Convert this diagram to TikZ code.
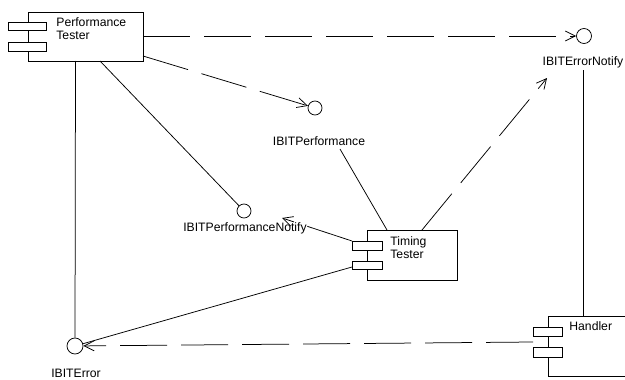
\documentclass[tikz,border=0pt]{standalone}
\usepackage{fontspec}
\setmainfont{Liberation Sans}
\usetikzlibrary{arrows.meta}
\begin{document}
\begin{tikzpicture}[x=1pt,y=-1pt,
  line width=0.75pt,
  comp/.style={draw, fill=white, inner sep=0pt, anchor=north west},
  port/.style={draw, fill=white, inner sep=0pt, anchor=north west},
  iface/.style={draw, fill=white, circle, inner sep=0pt, minimum size=15pt},
  lbl/.style={inner sep=0pt, font=\fontsize{12.2}{13}\selectfont},
  boxtext/.style={inner sep=0pt, anchor=base west, font=\fontsize{12.2}{13}\selectfont},
  dep/.style={dash pattern=on 47pt off 14pt, -{Straight Barb[length=10pt,width=10pt]}}
]
\useasboundingbox (0,0) rectangle (625,380);
% Performance Tester
\node[comp, minimum width=115pt, minimum height=49pt] (pt) at (28,12) {};
\node[port, minimum width=38pt, minimum height=8pt] (ptp1) at (8,22) {};
\node[port, minimum width=38pt, minimum height=9pt] (ptp2) at (8,42) {};
\node[boxtext] (ptt1) at (56,26.5) {Performance};
\node[boxtext] (ptt2) at (56,39.5) {Tester};
% Timing Tester
\node[comp, minimum width=90pt, minimum height=50pt] (tt) at (367,230) {};
\node[port, minimum width=30pt, minimum height=9pt] (ttp1) at (352,241) {};
\node[port, minimum width=30pt, minimum height=8pt] (ttp2) at (352,261) {};
\node[boxtext] (ttt1) at (390,245) {Timing};
\node[boxtext] (ttt2) at (390,258) {Tester};
% Handler
\node[comp, minimum width=82pt, minimum height=60pt] (h) at (548,316) {};
\node[port, minimum width=29pt, minimum height=9pt] (hp1) at (533,327) {};
\node[port, minimum width=29pt, minimum height=10pt] (hp2) at (533,347) {};
\node[boxtext] (ht) at (569,330) {Handler};
% Interfaces
\node[iface] (ien) at (584,36) {};
\node[lbl] (ienl) at (583,62) {IBITErrorNotify};
\node[iface, minimum size=14pt] (ip) at (315,108) {};
\node[lbl] (ipl) at (319,141) {IBITPerformance};
\node[iface, minimum size=14pt] (ipn) at (244,211) {};
\node[lbl] (ipnl) at (245,228) {IBITPerformanceNotify};
\node[iface, minimum size=16pt] (ie) at (75,346) {};
\node[lbl] (iel) at (76,373) {IBITError};
% coordinates
\coordinate (a1) at (143,36);
\coordinate (a2) at (143,56);
\coordinate (a3) at (100,61);
\coordinate (a4) at (75.5,61);
\coordinate (b1) at (387,230);
\coordinate (b2) at (422,230);
\coordinate (b3) at (352,241);
\coordinate (b4) at (352,267);
\coordinate (c1) at (533,342);
\coordinate (c2) at (583,316);
\coordinate (ipend) at (340,149);
\coordinate (ienend) at (547,78);
\coordinate (ipnend) at (282,218);
\coordinate (ienbot) at (583,70);
% connectors
\draw[dep] (a1) -- (ien.west);
\draw[dep] (a2) -- (ip);
\draw (a3) -- (ipn);
\draw (a4) -- (ie);
\draw (b1) -- (ipend);
\draw[dep] (b2) -- (ienend);
\draw[dep] (b3) -- (ipnend);
\draw (b4) -- (ie);
\draw[dep] (c1) -- (ie);
\draw (c2) -- (ienbot);
\end{tikzpicture}
\end{document}
